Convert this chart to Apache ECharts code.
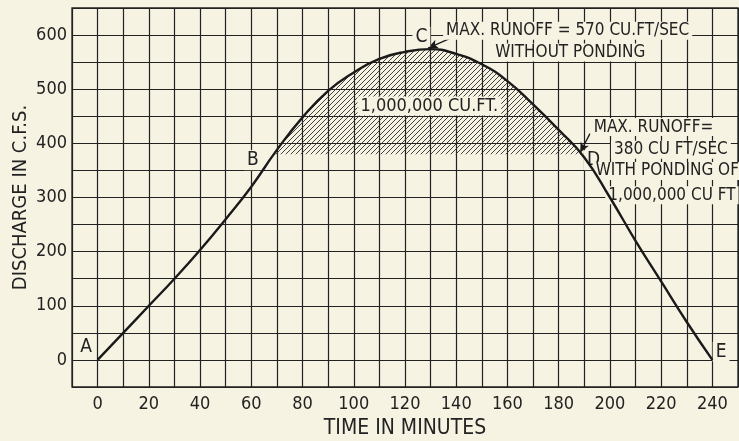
<!DOCTYPE html>
<html>
<head>
<meta charset="utf-8">
<script src="https://cdn.jsdelivr.net/npm/echarts@6/dist/echarts.min.js"></script>
<style>
  html, body { margin: 0; padding: 0; background: #f7f3e3; }
  #chart { width: 739px; height: 441px; }
</style>
</head>
<body>
<div id="chart"></div>
<script>
    // hydrograph, time in minutes, discharge in c.f.s.
    const minutes = [ 0, 10, 20, 30, 40, 50, 60, 70, 80, 90, 100, 110, 120, 130, 140, 150, 160, 170, 180, 190, 200, 210, 220, 230, 240 ];
    const discharge = [ 0, 50, 100, 150, 203, 260, 320, 388, 448, 497, 531, 556, 569, 574, 565, 546, 515, 472, 425, 374, 300, 220, 145, 70, 0 ];
    // ponding level and where it cuts the curve (B and D)
    const pondLevel = 380;
    const pointB = [ 68.8, 380 ];
    const pointD = [ 188.9, 380 ];
    const xTicks = [ 0, 20, 40, 60, 80, 100, 120, 140, 160, 180, 200, 220, 240 ];
    const yTicks = [ 0, 100, 200, 300, 400, 500, 600 ];

    const FONT = '"Liberation Sans Narrow", "DejaVu Sans Condensed", "Liberation Sans", sans-serif';
    const PAPER = '#f7f3e3';
    const INK = '#222222';

    // notes placed in data coordinates
    const notes = [
        { text: 'A', x: -4.5, y: 24 },
        { text: 'B', x: 60.6, y: 369 },
        { text: 'C', x: 126.4, y: 597 },
        { text: 'D', x: 193.6, y: 369 },
        { text: 'E', x: 243.4, y: 15 },
        { text: 'MAX. RUNOFF = 570 CU.FT/SEC', x: 183.5, y: 608 },
        { text: 'WITHOUT PONDING', x: 184.5, y: 568 },
        { text: '1,000,000 CU.FT.', x: 129.5, y: 469 },
        { text: 'MAX. RUNOFF=', x: 217, y: 430 },
        { text: '380 CU FT/SEC', x: 223.8, y: 388 },
        { text: 'WITH PONDING OF', x: 222.4, y: 349 },
        { text: '1,000,000 CU FT', x: 224.2, y: 304 }
    ];
    const arrows = [
        [ [ 137.6, 594 ], [ 129, 576 ] ],
        [ [ 192.2, 418 ], [ 188.4, 383 ] ]
    ];

    const curve = minutes.map( ( m, i ) => [ m, discharge[ i ] ] );
    const hatchData = [ pointB ].concat( curve.filter( p => p[ 0 ] > pointB[ 0 ] && p[ 0 ] < pointD[ 0 ] ) ).concat( [ pointD ] );

    function hatchPattern() {
        const c = document.createElement( 'canvas' );
        c.width = 5;
        c.height = 5;
        const ctx = c.getContext( '2d' );
        ctx.strokeStyle = '#2e2e2e';
        ctx.lineWidth = 0.9;
        ctx.beginPath();
        ctx.moveTo( 0, 5 ); ctx.lineTo( 5, 0 );
        ctx.moveTo( -1, 1 ); ctx.lineTo( 1, -1 );
        ctx.moveTo( 4, 6 ); ctx.lineTo( 6, 4 );
        ctx.stroke();
        return c;
    }

    const chart = echarts.init( document.getElementById( 'chart' ) );
    chart.setOption( {
        backgroundColor: PAPER,
        animation: false,
        textStyle: { fontFamily: FONT },
        grid: {
            left: 72, right: 1, top: 8, bottom: 54,
            outerBoundsMode: 'none', containLabel: false,
            show: true, borderColor: INK, borderWidth: 1.3
        },
        xAxis: {
            type: 'value', min: -10, max: 250, interval: 10, z: 0,
            name: 'TIME IN MINUTES', nameLocation: 'middle', nameGap: 30,
            nameTextStyle: { fontFamily: FONT, fontSize: 21, color: INK },
            axisLine: { show: false }, axisTick: { show: false },
            axisLabel: {
                margin: 8, fontSize: 18, color: INK, fontFamily: FONT,
                formatter: v => xTicks.indexOf( v ) >= 0 ? String( v ) : ''
            },
            splitLine: { lineStyle: { color: INK, width: 1.2 } }
        },
        yAxis: {
            type: 'value', min: -50, max: 650, interval: 50, z: 0,
            name: 'DISCHARGE IN C.F.S.', nameLocation: 'middle', nameGap: 41,
            nameMoveOverlap: false,
            nameTextStyle: { fontFamily: FONT, fontSize: 20, color: INK },
            axisLine: { show: false }, axisTick: { show: false },
            axisLabel: {
                margin: 5, fontSize: 18, color: INK, fontFamily: FONT,
                formatter: v => yTicks.indexOf( v ) >= 0 ? String( v ) : ''
            },
            splitLine: { lineStyle: { color: INK, width: 1.2 } }
        },
        series: [ {
            name: 'ponding',
            type: 'line',
            data: hatchData,
            smooth: 0.5,
            showSymbol: false,
            lineStyle: { width: 0 },
            areaStyle: { origin: pondLevel, opacity: 1, color: { image: hatchPattern(), repeat: 'repeat' } },
            z: 3
        }, {
            name: 'notes',
            type: 'scatter',
            symbolSize: 0,
            z: 6,
            itemStyle: { opacity: 1 },
            data: notes.map( n => ( {
                value: [ n.x, n.y ],
                name: n.text,
                label: { fontSize: n.text.length === 1 ? 19 : ( n.text.indexOf( 'CU.FT.' ) > 0 ? 18 : 17 ) }
            } ) ),
            label: {
                show: true,
                position: 'inside',
                formatter: p => p.name,
                fontFamily: FONT,
                fontSize: 17,
                color: INK,
                opacity: 1,
                backgroundColor: PAPER,
                padding: [ 1, 3, 0, 3 ]
            },
            markLine: {
                silent: true,
                symbol: [ 'none', 'arrow' ],
                symbolSize: [ 7, 10 ],
                label: { show: false },
                lineStyle: { color: '#1a1a1a', width: 1.3, type: 'solid' },
                data: arrows.map( a => [ { coord: a[ 0 ] }, { coord: a[ 1 ] } ] )
            }
        }, {
            name: 'runoff',
            type: 'line',
            data: curve,
            smooth: 0.5,
            showSymbol: false,
            lineStyle: { color: '#1a1a1a', width: 2.4 },
            z: 8
        } ]
    } );
</script>
</body>
</html>
